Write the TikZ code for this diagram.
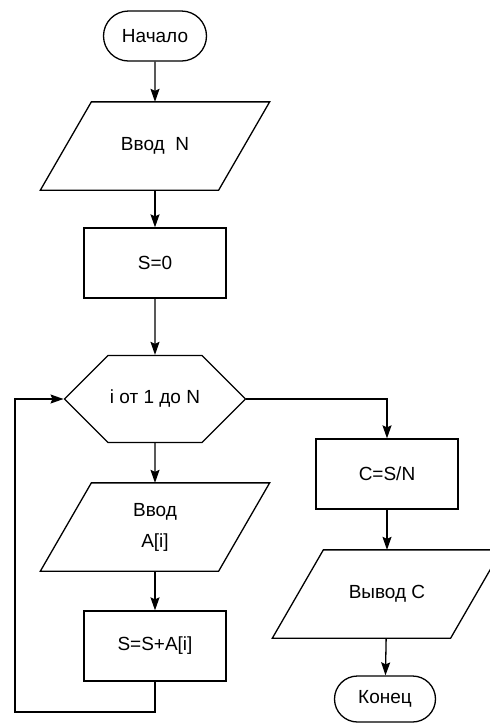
\documentclass[tikz,border=0pt]{standalone}
\usepackage{fontspec}
\setmainfont{Liberation Sans}
\usetikzlibrary{arrows.meta,shapes.misc,shapes.symbols}

\begin{document}
\begin{tikzpicture}[
  x=1pt,y=-1pt,
  font=\fontsize{19}{31}\selectfont,
  >={Stealth[length=13pt,width=9pt,inset=2pt]},
  every node/.style={line width=1.3pt,inner sep=2pt},
  term/.style={draw,rounded rectangle,minimum width=#1,minimum height=50pt},
  io/.style={rectangle,minimum width=177pt,minimum height=87pt,align=center,
             append after command={\pgfextra{\draw[line width=1.3pt,line join=miter]
               ([xshift=-25.5pt]\tikzlastnode.south west) -- ([xshift=-25.5pt]\tikzlastnode.south east)
               -- ([xshift=25.5pt]\tikzlastnode.north east) -- ([xshift=25.5pt]\tikzlastnode.north west)
               -- cycle;}}},
  proc/.style={draw,rectangle,minimum width=142pt,minimum height=70pt,align=center},
  cycle/.style={draw,signal,signal to=east and west,signal pointer angle=90,
                minimum width=180pt,minimum height=87pt},
  flow/.style={->,line width=1.3pt},
]
\useasboundingbox (0,0) rectangle (490,724);
\clip (0,0) rectangle (490,724);

% --- main column ---
\node[term=107pt] (start) at (155,36)  {Начало};
\node[io]         (inN)   at (155,146) {Ввод~~N};
\node[proc]       (init)  at (155,263) {S=0};
\node[cycle]      (loop)  at (155,399) {i от 1 до N};
\node[io]         (inA)   at (155,527) {Ввод\\A[i]};
\node[proc]       (sum)   at (155,646) {S=S+A[i]};

% --- exit column ---
\node[proc]       (avg)   at (387,474) {C=S/N};
\node[io]         (outC)  at (387,594) {Вывод C};
\node[term=105pt,minimum height=46pt] (stop) at (385,699) {Конец};

\coordinate (back) at (15,712);

% --- straight flow ---
\draw[flow] (start) -- (inN);
\draw[flow] (inN)   -- (init);
\draw[flow] (init)  -- (loop);
\draw[flow] (loop)  -- (inA);
\draw[flow] (inA)   -- (sum);
\draw[flow] (avg)   -- (outC);
\draw[flow] (outC)  -- (stop);

% --- loop back and exit ---
\draw[flow] (sum.south) |- (back) |- (loop.west);
\draw[flow] (loop.east) -| (avg.north);

\end{tikzpicture}
\end{document}
